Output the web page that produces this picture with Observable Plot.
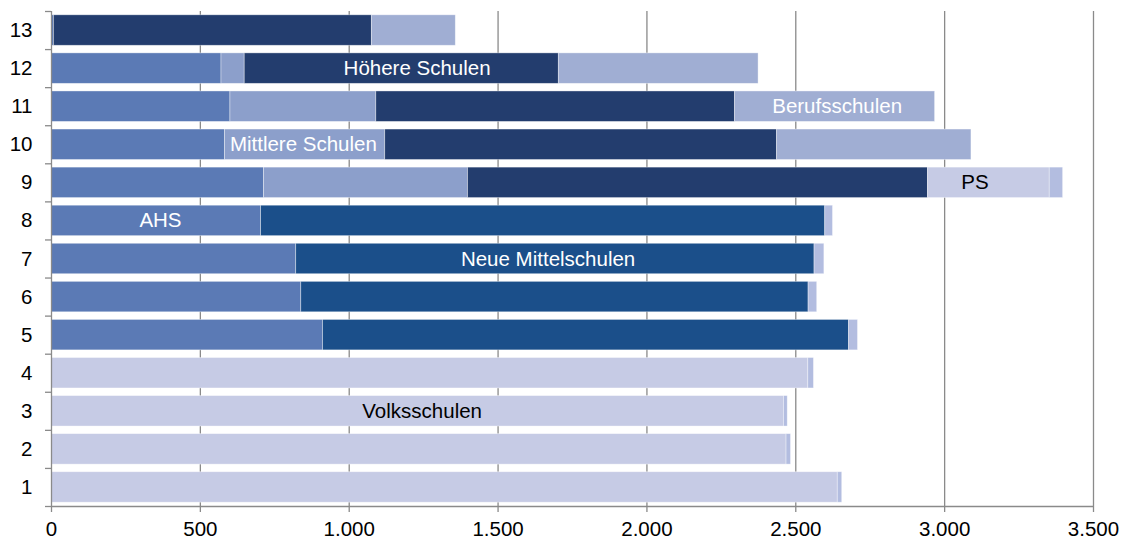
<!DOCTYPE html>
<html>
<head>
<meta charset="utf-8">
<script src="https://cdn.jsdelivr.net/npm/d3@7"></script>
<script src="https://cdn.jsdelivr.net/npm/@observablehq/plot@0.6"></script>
<style>
  html, body { margin: 0; padding: 0; background: #fff; }
  #chart svg { display: block; overflow: visible; }
</style>
</head>
<body>
<div id="chart"></div>
<script>
// ---- data (rows 1..13, bottom to top) ----
const rows = [1, 2, 3, 4, 5, 6, 7, 8, 9, 10, 11, 12, 13];
const volksschulen      = [2641, 2469, 2460, 2542, 0, 0, 0, 0, 0, 0, 0, 0, 0];
const ahs               = [0, 0, 0, 0, 912, 839, 822, 704, 714, 583, 601, 571, 8];
const neueMittelschulen = [0, 0, 0, 0, 1767, 1704, 1741, 1895, 0, 0, 0, 0, 0];
const mittlereSchulen   = [0, 0, 0, 0, 0, 0, 0, 0, 685, 538, 490, 78, 0];
const hoehereSchulen    = [0, 0, 0, 0, 0, 0, 0, 0, 1545, 1316, 1205, 1055, 1068];
const polytechnische    = [0, 0, 0, 0, 0, 0, 0, 0, 409, 0, 0, 0, 0];
const berufsschulen     = [0, 0, 0, 0, 0, 0, 0, 0, 0, 653, 672, 671, 282];
const sonderschulen     = [15, 15, 13, 19, 30, 29, 33, 26, 45, 0, 0, 0, 0];

const seriesNames  = ["Volksschulen", "AHS", "Neue Mittelschulen", "Mittlere Schulen", "Höhere Schulen", "PS", "Berufsschulen", "Sonderschulen"];
const seriesValues = [volksschulen, ahs, neueMittelschulen, mittlereSchulen, hoehereSchulen, polytechnische, berufsschulen, sonderschulen];
const seriesColors = ["#c6cbe5", "#5b7ab5", "#1b4f8a", "#8c9fcb", "#233d6e", "#c6cbe5", "#a0aed3", "#b3bde0"];

// in-bar labels
const labelText  = ["Höhere Schulen", "Berufsschulen", "Mittlere Schulen", "PS", "AHS", "Neue Mittelschulen", "Volksschulen"];
const labelRow   = [12, 11, 10, 9, 8, 7, 3];
const labelValue = [1228, 2639, 846, 3102, 366, 1668, 1245];
const labelColor = ["#ffffff", "#ffffff", "#ffffff", "#000000", "#ffffff", "#ffffff", "#000000"];

const xTicks = [0, 500, 1000, 1500, 2000, 2500, 3000, 3500];

// ---- build tables ----
const segments = [];
rows.forEach((r, i) => {
  seriesNames.forEach((s, k) => {
    const v = seriesValues[k][i];
    if (v > 0) segments.push({row: r, series: s, value: v});
  });
});
const labels = labelText.map((t, i) => ({text: t, row: labelRow[i], value: labelValue[i], color: labelColor[i]}));

const deFormat = d3.formatLocale({decimal: ",", thousands: ".", grouping: [3], currency: ["", " €"]}).format(",d");
const gridColor = "#8a8a8a";
const half = 0.4;
const fs = 20.5;

const chart = Plot.plot({
  width: 1124,
  height: 542,
  marginLeft: 51,
  marginRight: 31,
  marginTop: 11,
  marginBottom: 36,
  style: {fontFamily: "'Liberation Sans', Arial, sans-serif", fontSize: fs + "px", color: "#000", background: "#fff"},
  x: {domain: [0, 3500], axis: null},
  y: {domain: [0.5, 13.5], axis: null},
  color: {domain: seriesNames, range: seriesColors},
  marks: [
    Plot.ruleX(xTicks.slice(1), {stroke: gridColor, strokeWidth: 1.3}),
    Plot.rectX(segments, {
      x: "value",
      y1: d => d.row - half,
      y2: d => d.row + half,
      fill: "series",
      stroke: "#ffffff",
      strokeOpacity: 0.5,
      strokeWidth: 0.75
    }),
    Plot.ruleX([0], {stroke: gridColor, strokeWidth: 1.3}),
    Plot.ruleY([0.5], {stroke: gridColor, strokeWidth: 1.3}),
    Plot.axisX({ticks: xTicks, tickFormat: deFormat, tickSize: 6, tickPadding: 9, label: null, stroke: gridColor, strokeWidth: 1.3, fill: "#000", fontSize: fs}),
    Plot.axisY({ticks: d3.range(0.5, 14, 1), tickFormat: () => "", tickSize: 6, label: null, stroke: gridColor, strokeWidth: 1.3}),
    Plot.axisY({ticks: rows, tickFormat: d => String(d), tickSize: 0, tickPadding: 19, label: null, fill: "#000", fontSize: fs}),
    Plot.text(labels, {x: "value", y: "row", text: "text", fill: "color", fontSize: fs})
  ]
});
document.getElementById("chart").appendChild(chart);
</script>
</body>
</html>
